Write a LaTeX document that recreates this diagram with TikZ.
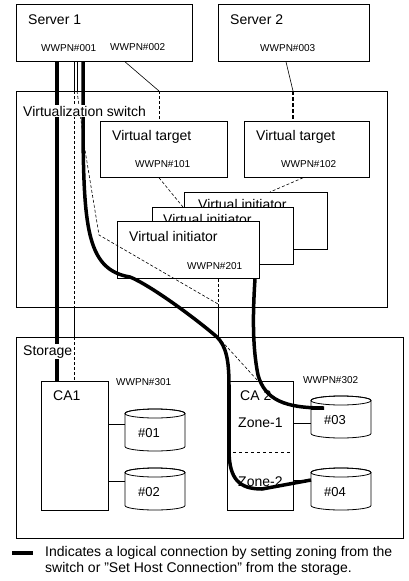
\documentclass[tikz,border=0pt]{standalone}
\usepackage{fontspec}
\setmainfont{Liberation Sans}
\usetikzlibrary{calc, positioning}

\tikzset{
  box/.style={draw, fill=white, anchor=north west, inner sep=0pt, line width=.8pt},
  lbl/.style={anchor=base west, inner sep=0pt, font=\fontsize{14}{16}\selectfont},
  wwpn/.style={anchor=base west, inner sep=0pt, font=\fontsize{10}{12}\selectfont},
  cable/.style={line width=3.5pt},
  link/.style={line width=.6pt},
  vlink/.style={line width=.6pt, dash pattern=on 3pt off 2pt},
}

\begin{document}
\begin{tikzpicture}[x=1pt, y=-1pt]
\useasboundingbox (0,0) rectangle (409,581);

% servers
\node[box, minimum width=176, minimum height=57] (srv1) at (16,4) {};
\node[box, minimum width=151, minimum height=57] (srv2) at (218,4) {};
\node[lbl] (srv1l) at (28,24) {Server 1};
\node[wwpn] (w001) at (41,51) {WWPN\#001};
\node[wwpn] (w002) at (110,50) {WWPN\#002};
\node[lbl] (srv2l) at (230,24) {Server 2};
\node[wwpn] (w003) at (260,51) {WWPN\#003};

% switch
\node[box, minimum width=371, minimum height=216] (vsw) at (16,91) {};
\node[box, minimum width=127, minimum height=56] (vt1) at (100,121) {};
\node[box, minimum width=125, minimum height=56] (vt2) at (244,121) {};
\node[lbl] (vt1l) at (112,140) {Virtual target};
\node[wwpn] (w101) at (135,167) {WWPN\#101};
\node[lbl] (vt2l) at (256,140) {Virtual target};
\node[wwpn] (w102) at (281,167) {WWPN\#102};
\node[box, minimum width=143, minimum height=57] (vi3) at (184,192) {};
\node[lbl] (vi3l) at (198,209) {Virtual initiator};
\node[box, minimum width=141, minimum height=57] (vi2) at (152,207) {};
\node[lbl] (vi2l) at (163,224) {Virtual initiator};
\node[box, minimum width=142, minimum height=57] (vi1) at (117,221) {};
\node[lbl] (vi1l) at (129,241) {Virtual initiator};
\node[wwpn] (w201) at (187,269) {WWPN\#201};

% storage
\node[box, minimum width=387, minimum height=201] (stor) at (16,337) {};
\node[box, minimum width=67, minimum height=129] (ca1) at (41,381) {};
\node[box, minimum width=66, minimum height=129] (ca2) at (227,381) {};
\node[lbl] (ca1l) at (53,400) {CA1};
\node[wwpn] (w301) at (116,385) {WWPN\#301};
\node[lbl] (ca2l) at (240,400) {CA 2};
\node[wwpn] (w302) at (303,383) {WWPN\#302};
\draw[dashed, line width=.6pt] (ca2.west |- 0,452) -- (ca2.east |- 0,452);
\node[lbl] (z1) at (238,427) {Zone-1};
\node[lbl] (z2) at (238,486) {Zone-2};

\foreach \n/\x/\y/\c/\ca in {01/125/409/15/ca1, 02/125/468/13/ca1, 03/311/396/27/ca2, 04/311/468/12/ca2}{
  \draw[fill=white, line width=.8pt] (\x,\y+4.5) -- (\x,\y+37.5)
    arc[start angle=180, end angle=0, x radius=30, y radius=4.5] -- (\x+60,\y+4.5)
    arc[start angle=0, end angle=-180, x radius=30, y radius=4.5] -- cycle;
  \draw[line width=.8pt] (\x+30,\y+4.5) ellipse[x radius=30, y radius=4.5];
  \node[anchor=base west, inner sep=0pt, font=\fontsize{13}{15}\selectfont] (d\n) at (\x+13,\y+28) {\#\n};
  \coordinate (dw\n) at (\x,\y+\c);
  \draw[link] (dw\n -| \ca.east) -- (dw\n);
}

% connections
\draw[cable] (57,0 |- srv1.south) -- (57,0 |- ca1.north);
\draw[link] (74,0 |- srv1.south) -- (74,0 |- vsw.north);
\draw[vlink] (74,0 |- vsw.north) -- (74,0 |- vsw.south);
\draw[link] (74,0 |- vsw.south) -- (74,0 |- stor.north);
\draw[vlink] (74,0 |- stor.north) -- (74,0 |- ca1.north);
\draw[link] (77,0 |- srv1.south) -- (77,0 |- vsw.north);
\draw[vlink] (77,0 |- vsw.north) -- (85,150) -- (99,235) -- (218,304);
\draw[vlink] (218,0 |- vi1.south) -- (218,0 |- vsw.south);
\draw[link] (218,0 |- vsw.south) -- (218,0 |- stor.north);
\draw[vlink] (218,0 |- stor.north) -- (258,0 |- ca2.north);
\draw[link] (125,0 |- srv1.south) -- (159,0 |- vsw.north);
\draw[vlink] (159,0 |- vsw.north) -- (159,0 |- vt1.north);
\draw[link] (286,0 |- srv2.south) -- (293,0 |- vsw.north);
\draw[line width=1.2pt, dash pattern=on 4pt off 2pt] (293,0 |- vsw.north) -- (293,0 |- vt2.north);
\draw[vlink] (159,0 |- vt1.south) -- (183,0 |- vi2.north);
\draw[vlink] (303,0 |- vt2.south) -- (270,0 |- vi3.north);
\draw[cable] (83,0 |- srv1.south) -- (83,135)
  .. controls (84,230) and (88,270) .. (130,277)
  .. controls (150,285) and (195,318) .. (217,337)
  .. controls (226,346) and (229,360) .. (229,385) -- (229,450)
  .. controls (229,480) and (240,489) .. (262,489) -- (dw04 -| 311,0);
\draw[cable] (255,0 |- vi1.south) .. controls (253,310) and (252,345) .. (258,375)
  .. controls (265,400) and (285,408) .. (d03.west |- 0,408) -- (311,408);

% labels over the lines
\node[lbl, fill=white, inner sep=1pt] (vswl) at (22,116) {Virtualization switch};
\node[lbl, fill=white, inner sep=1pt] (storl) at (22,355) {Storage};

% legend
\coordinate (legs) at (12,553);
\coordinate (lege) at (33,553);
\draw[cable] (legs) -- (lege);
\node[lbl] (leg1) at (45,556) {Indicates a logical connection by setting zoning from the};
\node[lbl] (leg2) at (45,572) {switch or "Set Host Connection" from the storage.};
\end{tikzpicture}
\end{document}
